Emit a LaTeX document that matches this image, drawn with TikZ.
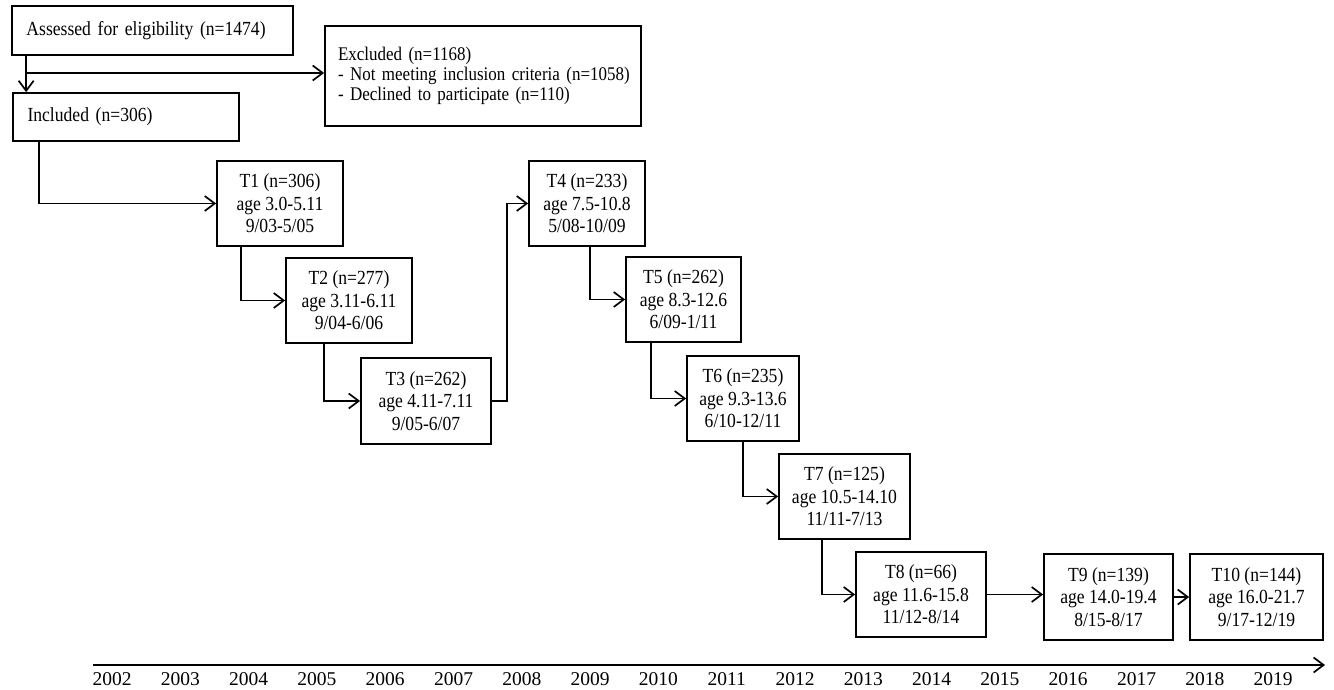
\documentclass[tikz,border=0pt]{standalone}
\usepackage{fontspec}
\setmainfont{Liberation Serif}[FakeStretch=0.88]
\newfontfamily\yearfont{Liberation Serif}
\usetikzlibrary{arrows.meta, positioning, calc}

\begin{document}
\begin{tikzpicture}[x=1pt, y=-1pt,
    >={Straight Barb[length=10pt, width=15pt]},
    every node/.style={font=\fontsize{20}{22.5}\selectfont},
    wave/.style={draw, line width=1.7pt, inner sep=0pt, align=center, minimum height=85pt},
    flowbox/.style={draw, line width=1.7pt, inner xsep=14.5pt, inner ysep=0pt, align=left},
    arr/.style={->, line width=1.7pt},
    yearlbl/.style={font=\yearfont\fontsize{19.5}{20}\selectfont}]
  \useasboundingbox (0,0) rectangle (1334,690);
  \node[flowbox, text width=252pt, minimum height=49pt] (assessed) at (152.5,30.5) {Assessed for eligibility (n=1474)};
  \node[flowbox, inner xsep=13pt, text width=290pt, minimum height=100pt, font=\fontsize{19.3}{20}\selectfont] (excluded) at (483,76) {Excluded (n=1168)\\\mbox{- Not meeting inclusion criteria (n=1058)}\\- Declined to participate (n=110)};
  \node[flowbox, text width=197pt, minimum height=48pt] (included) at (126,117) {Included (n=306)};
  \node[wave, minimum width=126pt] (t1) at (280,203.5) {T1 (n=306)\\age 3.0-5.11\\9/03-5/05};
  \node[wave, minimum width=126pt] (t2) at (349,300.5) {T2 (n=277)\\age 3.11-6.11\\9/04-6/06};
  \node[wave, minimum width=130pt, minimum height=86pt] (t3) at (426,401) {T3 (n=262)\\age 4.11-7.11\\9/05-6/07};
  \node[wave, minimum width=116pt] (t4) at (587,203.5) {T4 (n=233)\\age 7.5-10.8\\5/08-10/09};
  \node[wave, minimum width=115pt] (t5) at (683.5,299.5) {T5 (n=262)\\age 8.3-12.6\\6/09-1/11};
  \node[wave, minimum width=112pt] (t6) at (743,398.5) {T6 (n=235)\\age 9.3-13.6\\6/10-12/11};
  \node[wave, minimum width=131pt] (t7) at (844.5,496.5) {T7 (n=125)\\age 10.5-14.10\\11/11-7/13};
  \node[wave, minimum width=130pt] (t8) at (921,594.5) {T8 (n=66)\\age 11.6-15.8\\11/12-8/14};
  \node[wave, minimum width=129pt, minimum height=86pt] (t9) at (1108.5,597) {T9 (n=139)\\age 14.0-19.4\\8/15-8/17};
  \node[wave, minimum width=133pt, minimum height=86pt] (t10) at (1256.5,597) {T10 (n=144)\\age 16.0-21.7\\9/17-12/19};

  \coordinate (split) at (27,73);
  \draw[arr] ([xshift=15pt]assessed.south west) -- ([xshift=14pt]included.north west);
  \draw[arr] (split) -- (split -| excluded.west);
  \draw[arr] ([xshift=27pt]included.south west) |- (t1.west);
  \draw[arr] ([xshift=25pt]t1.south west) |- (t2.west);
  \draw[arr] ([xshift=39pt]t2.south west) |- (t3.west);
  \draw[arr] (t3.east) -- ++(15,0) |- (t4.west);
  \draw[arr] ([xshift=62pt]t4.south west) |- (t5.west);
  \draw[arr] ([xshift=26pt]t5.south west) |- (t6.west);
  \draw[arr] (t6.south) |- (t7.west);
  \draw[arr] ([xshift=44pt]t7.south west) |- (t8.west);
  \draw[arr] (t8.east) -- (t8.east -| t9.west);
  \draw[arr] (t9.east) -- (t10.west);

  \coordinate (axstart) at (93,665);
  \coordinate (axend) at (1325,665);
  \draw[arr] (axstart) -- (axend);
  \foreach \yr [count=\i from 0] in {2002,...,2019}
    \node[yearlbl] (y\yr) at (112+68.3*\i,679) {\yr};
\end{tikzpicture}
\end{document}
